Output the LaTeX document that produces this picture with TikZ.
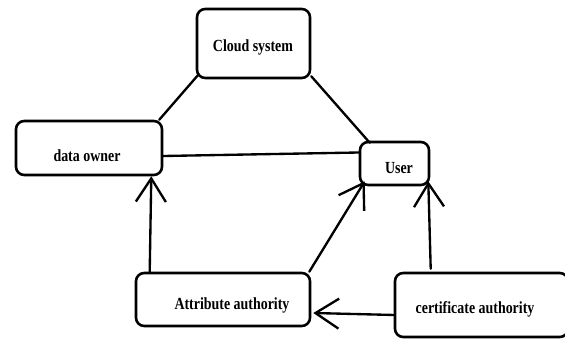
\documentclass[tikz,border=0pt]{standalone}
\usepackage{fontspec}
\setmainfont[FakeStretch=0.82]{Liberation Serif}
\usetikzlibrary{arrows.meta,calc}
\begin{document}
\begin{tikzpicture}[x=0.03cm,y=-0.03cm,>={Straight Barb[length=7mm,width=9mm]},line join=round,line cap=round,font=\fontsize{14.5}{16}\selectfont\bfseries]
  \tikzset{box/.style={draw,line width=2.2pt,rounded corners=7pt,inner sep=0pt},
           link/.style={line width=2pt}}
  \useasboundingbox (0,0) rectangle (565,339);
  % boxes
  \node[box,minimum width=3.39cm,minimum height=2.07cm] (cloud) at (253.5,43.5) {};
  \node[box,minimum width=4.38cm,minimum height=1.62cm] (owner) at (89,148) {};
  \node[box,minimum width=2.07cm,minimum height=1.29cm] (user) at (394.5,163.5) {};
  \node[box,minimum width=5.22cm,minimum height=1.59cm] (attr) at (223,299.5) {};
  \node[box,minimum width=5.19cm,minimum height=1.92cm] (cert) at (481.5,305) {};
  % texts
  \node (cloudtext) at (253,47) {Cloud system};
  \node (ownertext) at (87,156) {data owner};
  \node (usertext) at (399,168) {User};
  \node (attrtext) at (232,305) {Attribute authority};
  \node (certtext) at (475,309) {certificate authority};
  % connectors
  \draw[link] ($(owner.north east)+(-4,0)$) -- ($(cloud.south west)+(3,-5)$);
  \draw[link] ($(cloud.south east)+(0,-3)$) -- ($(user.north west)+(11,2)$);
  \draw[link] ($(owner.east)+(0,8)$) -- ($(user.west)+(0,-11)$);
  \draw[link,->] ($(attr.north west)+(15,0)$) -- ($(owner.south east)+(-12,0)$);
  \draw[link,->] ($(attr.north east)+(-2,0)$) -- ($(user.south west)+(6,-5)$);
  \draw[link,->] ($(cert.north west)+(37,-3)$) -- ($(user.south east)+(-2,-5)$);
  \draw[link,->] ($(cert.west)+(1,10)$) -- ($(attr.east)+(2,13.5)$);
\end{tikzpicture}
\end{document}
